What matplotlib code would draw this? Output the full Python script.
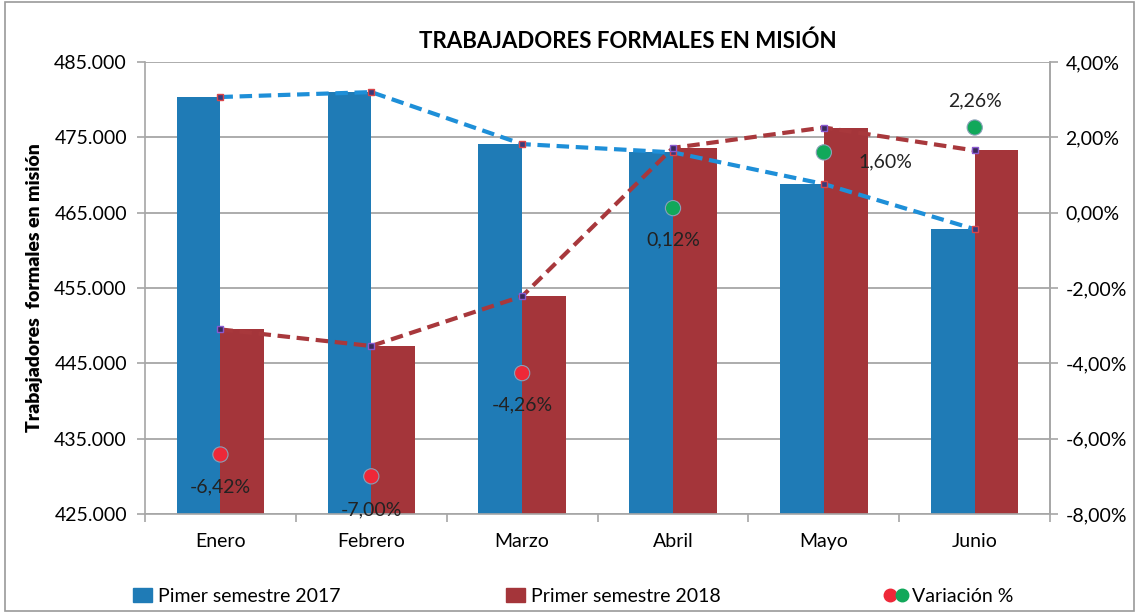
import matplotlib.pyplot as plt
import numpy as np
from matplotlib.legend_handler import HandlerTuple
from matplotlib.lines import Line2D
from matplotlib.patches import Patch, Rectangle
from matplotlib.ticker import FuncFormatter

plt.rcParams['font.family'] = ['Lato', 'DejaVu Sans']

# data
meses = ['Enero', 'Febrero', 'Marzo', 'Abril', 'Mayo', 'Junio']
sem_2017 = [480350, 481000, 474100, 473000, 468800, 462800]
sem_2018 = [449500, 447300, 453900, 473600, 476300, 473250]
variacion = [-6.42, -7.00, -4.26, 0.12, 1.60, 2.26]

azul = '#1f7bb6'
rojo = '#a4353a'
azul_linea = '#1e8fd8'
rojo_linea = '#a8383c'

fig = plt.figure(figsize=(11.39, 6.13), dpi=100)
fig.patches.append(Rectangle((0.004, 0.004), 0.992, 0.992, transform=fig.transFigure,
                             fill=False, edgecolor='#9a9a9a', linewidth=1.2))
ax = fig.add_axes([0.1273, 0.1615, 0.7947, 0.7374])

x = np.arange(len(meses))
w = 0.29
ax.bar(x - w / 2, sem_2017, width=w, color=azul, zorder=2)
ax.bar(x + w / 2, sem_2018, width=w, color=rojo, zorder=2)
ax.plot(x, sem_2017, color=azul_linea, lw=3, ls=(0, (3, 1.6)), zorder=3,
        marker='s', ms=5, mfc='#3a3a7a', mec='#d9454a', mew=1)
ax.plot(x, sem_2018, color=rojo_linea, lw=3, ls=(0, (3, 1.6)), zorder=3,
        marker='s', ms=5, mfc='#3a2a5a', mec='#8a5ad0', mew=1)

ax.set_xlim(-0.5, len(meses) - 0.5)
ax.set_ylim(425000, 485000)
ax.set_yticks(np.arange(425000, 485001, 10000))
ax.yaxis.set_major_formatter(FuncFormatter(lambda v, p: f'{v:,.0f}'.replace(',', '.')))
ax.grid(axis='y', color='#a6a6a6', lw=1.3, zorder=0)
ax.set_xticks(x)
ax.set_xticklabels(meses, fontsize=14)
ax.set_xticks(np.arange(-0.5, len(meses)), minor=True)
ax.tick_params(axis='x', which='major', length=0, pad=14)
ax.tick_params(axis='x', which='minor', length=6, color='#a6a6a6', width=1.2)
ax.tick_params(axis='y', length=6, color='#a6a6a6', width=1.2, labelsize=14, pad=7)
ax.spines['top'].set_visible(False)
for s in ['left', 'bottom', 'right']:
    ax.spines[s].set_color('#a6a6a6')
    ax.spines[s].set_linewidth(1.2)
ax.set_ylabel('Trabajadores  formales en misión', fontsize=14, fontweight='heavy', labelpad=8)

ax2 = ax.twinx()
ax2.set_ylim(-8, 4)
ax2.set_yticks(np.arange(-8, 4.01, 2))
ax2.yaxis.set_major_formatter(FuncFormatter(lambda v, p: f'{v:.2f}%'.replace('.', ',')))
ax2.tick_params(axis='y', length=6, color='#a6a6a6', width=1.2, labelsize=14, pad=5)
for s in ['top', 'left', 'bottom']:
    ax2.spines[s].set_visible(False)
ax2.spines['right'].set_color('#a6a6a6')
ax2.spines['right'].set_linewidth(1.2)

colores = ['#ee2838' if v < 0 else '#11a85a' for v in variacion]
ax2.scatter(x, variacion, s=120, c=colores, edgecolors='#8aa0b8', linewidths=0.8, zorder=5)
offsets = [(0, -23), (0, -24), (0, -23), (0, -23), (44, -7), (0, 19)]
for xi, v, off in zip(x, variacion, offsets):
    ax2.annotate(f'{v:.2f}%'.replace('.', ','), (xi, v), textcoords='offset points', xytext=off,
                 ha='center', va='center', fontsize=14, color='#222222', zorder=6)

fig.text(0.551, 0.932, 'TRABAJADORES FORMALES EN MISIÓN', ha='center', va='center',
         fontsize=16, fontweight='bold')

handles = [Patch(color=azul), Patch(color=rojo),
           (Line2D([], [], ls='', marker='o', ms=9, color='#ee2838'),
            Line2D([], [], ls='', marker='o', ms=9, color='#11a85a'))]
fig.legend(handles, ['Pimer semestre 2017', 'Primer semestre 2018', 'Variación %'],
           handler_map={tuple: HandlerTuple(ndivide=None, pad=0.2)},
           loc='center', bbox_to_anchor=(0.503, 0.027), ncol=3, frameon=False,
           fontsize=14, columnspacing=8.5, handlelength=1.0, handletextpad=0.3)

fig.savefig('out.png', dpi=100)
